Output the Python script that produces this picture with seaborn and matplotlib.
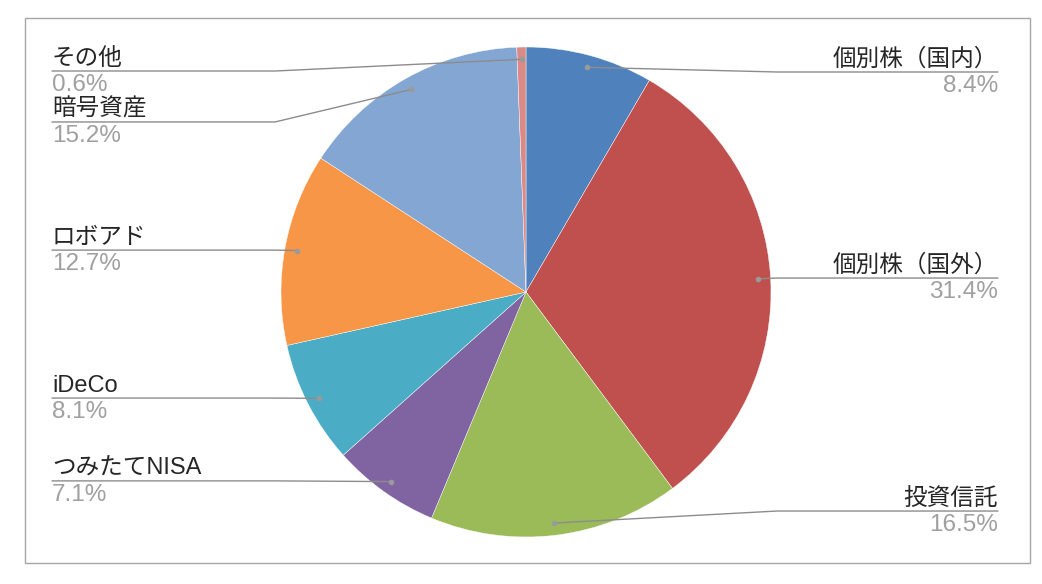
import numpy as np
import matplotlib
matplotlib.use("Agg")
import matplotlib.pyplot as plt
import seaborn as sns
from matplotlib.patches import Rectangle

# data
categories = ["個別株（国内）", "個別株（国外）", "投資信託", "つみたてNISA",
              "iDeCo", "ロボアド", "暗号資産", "その他"]
shares = [8.4, 31.4, 16.5, 7.1, 8.1, 12.7, 15.2, 0.6]
colors = ["#4F81BD", "#C0504D", "#9BBB59", "#8064A2",
          "#4BACC6", "#F79646", "#84A6D3", "#D98A87"]

# label line heights (pie radius = 1)
label_y = [0.898, 0.057, -0.894, -0.771, -0.433, 0.171, 0.694, 0.902]

sns.set_theme(style="white")
fam = ["Liberation Sans", "Noto Sans CJK JP", "DejaVu Sans"]
plt.rcParams["font.family"] = fam

px = 1 / 245.0
fig = plt.figure(figsize=(10.42, 5.84), dpi=100)
ax = fig.add_axes([0, 0, 1, 1])

ax.pie(shares, colors=colors, startangle=90, counterclock=False, radius=1,
       center=(0, 0), wedgeprops=dict(edgecolor="white", linewidth=0.3),
       frame=True)
ax.set_xlim(-526 * px, (1042 - 526) * px)
ax.set_ylim(-(584 - 292) * px, 292 * px)
ax.set_aspect("auto")
ax.axis("off")

total = sum(shares)
cum = 0.0
left_x, left_elbow = (52 - 526) * px, (275 - 526) * px
right_x, right_elbow = (998 - 526) * px, (777 - 526) * px
for name, v, ly in zip(categories, shares, label_y):
    theta = np.deg2rad(90 - 360 * (cum + v / 2) / total)
    cum += v
    axx, ayy = 0.95 * np.cos(theta), 0.95 * np.sin(theta)
    if np.cos(theta) < 0:
        tx, ex, ha = left_x, left_elbow, "left"
        if axx < ex:
            ex = axx
    else:
        tx, ex, ha = right_x, right_elbow, "right"
        if axx > ex:
            ex = axx
    ax.plot([tx, ex, axx], [ly, ly, ayy], color="#8c8c8c", lw=1, zorder=3)
    ax.plot(axx, ayy, "o", color="#9a9a9a", ms=3, zorder=4)
    ax.text(tx, ly + 6 * px, name, ha=ha, va="baseline", fontsize=17,
            color="#262626", family=fam)
    ax.text(tx, ly - 20 * px, f"{v:.1f}%", ha=ha, va="baseline", fontsize=17.5,
            color="#a0a0a0", family=fam)

frame = Rectangle((25 / 1042, 1 - 563 / 584), (1030 - 25) / 1042, (563 - 18) / 584,
                  transform=fig.transFigure, fill=False, edgecolor="#a6a6a6", lw=1)
fig.patches.append(frame)

fig.savefig("out.png", dpi=100)
